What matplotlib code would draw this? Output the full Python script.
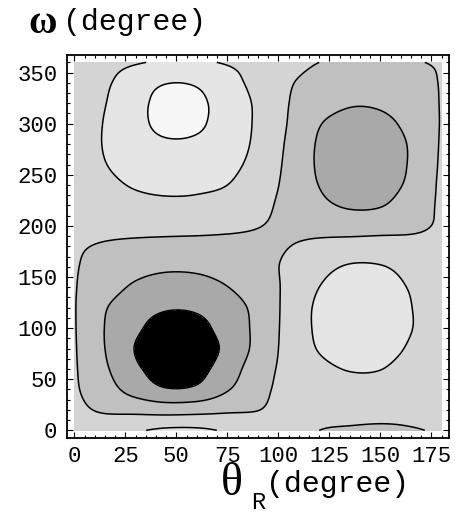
import matplotlib
matplotlib.use("Agg")
import matplotlib.pyplot as plt
import numpy as np
from matplotlib.ticker import MultipleLocator

plt.rcParams['font.family'] = ['Liberation Mono', 'DejaVu Sans Mono']

# sampling grid: theta_R across, omega up (degrees)
theta = [0, 15, 30, 45, 60, 75, 90, 105, 120, 135, 150, 165, 180]
omega = [0, 20, 40, 60, 80, 100, 120, 140, 160, 180, 200, 220, 240,
         260, 280, 300, 320, 340, 360]

# field values, one row per omega value
z_w000 = [3.30, 3.60, 3.90, 4.15, 4.15, 3.90, 3.60, 3.30, 3.00, 2.91, 2.875, 2.96, 3.05]
z_w020 = [3.21, 2.88, 2.74, 2.60, 2.66, 2.84, 2.98, 3.33, 3.28, 3.29, 3.26, 3.18, 3.20]
z_w040 = [3.12, 2.42, 1.60, 1.07, 1.18, 1.93, 2.71, 3.30, 3.52, 3.65, 3.62, 3.42, 3.30]
z_w060 = [3.10, 2.14, 1.15, 0.65, 0.72, 1.50, 2.55, 3.27, 3.76, 4.05, 4.02, 3.62, 3.38]
z_w080 = [3.08, 2.00, 0.96, 0.49, 0.56, 1.22, 2.31, 3.31, 4.06, 4.42, 4.36, 3.87, 3.30]
z_w100 = [3.06, 1.98, 1.16, 0.645, 0.72, 1.40, 2.25, 3.31, 4.17, 4.55, 4.49, 4.03, 3.40]
z_w120 = [3.05, 2.07, 1.41, 1.08, 1.13, 1.57, 2.29, 3.28, 4.17, 4.55, 4.49, 4.02, 3.40]
z_w140 = [3.05, 2.43, 1.85, 1.57, 1.62, 1.98, 2.55, 3.19, 4.00, 4.38, 4.33, 3.93, 3.40]
z_w160 = [3.06, 2.68, 2.34, 2.16, 2.19, 2.42, 2.79, 3.12, 3.70, 4.08, 4.05, 3.70, 3.35]
z_w180 = [3.08, 2.93, 2.81, 2.74, 2.72, 2.77, 2.87, 2.99, 3.19, 3.38, 3.39, 3.23, 3.15]
z_w200 = [3.20, 3.23, 3.27, 3.28, 3.26, 3.16, 3.02, 2.88, 2.73, 2.57, 2.65, 2.85, 3.08]
z_w220 = [3.30, 3.55, 3.72, 3.80, 3.78, 3.60, 3.22, 2.77, 2.22, 1.90, 1.95, 2.49, 3.15]
z_w240 = [3.38, 3.77, 4.08, 4.21, 4.17, 4.00, 3.43, 2.78, 1.98, 1.62, 1.66, 2.20, 3.18]
z_w260 = [3.45, 3.97, 4.36, 4.55, 4.52, 4.27, 3.66, 2.80, 1.88, 1.48, 1.55, 2.10, 3.14]
z_w280 = [3.45, 4.06, 4.60, 4.88, 4.83, 4.47, 3.79, 2.86, 1.90, 1.53, 1.59, 2.10, 3.10]
z_w300 = [3.42, 4.05, 4.72, 5.24, 5.15, 4.54, 3.85, 2.95, 2.05, 1.72, 1.78, 2.26, 3.06]
z_w320 = [3.38, 3.97, 4.71, 5.27, 5.19, 4.55, 3.84, 3.01, 2.40, 2.08, 2.13, 2.48, 3.05]
z_w340 = [3.35, 3.85, 4.54, 4.97, 4.90, 4.35, 3.70, 3.09, 2.68, 2.47, 2.50, 2.72, 3.04]
z_w360 = z_w000  # periodic in omega

z = np.array([z_w000, z_w020, z_w040, z_w060, z_w080, z_w100, z_w120, z_w140,
              z_w160, z_w180, z_w200, z_w220, z_w240, z_w260, z_w280, z_w300,
              z_w320, z_w340, z_w360])

levels = [-1, 1, 2, 3, 4, 5, 7]
shades = ['#000000', '#a9a9a9', '#c1c0c1', '#d4d4d4', '#e5e5e5', '#f7f7f7']


def cr_weights(n, steps, periodic=False):
    """Catmull-Rom resampling matrix for n evenly spaced samples."""
    u = np.linspace(0, n - 1, (n - 1) * steps + 1)
    i = np.minimum(u.astype(int), n - 2)
    t = u - i
    w = 0.5 * np.stack([-t + 2 * t**2 - t**3,
                        2 - 5 * t**2 + 3 * t**3,
                        t + 4 * t**2 - 3 * t**3,
                        -t**2 + t**3], axis=1)
    ncol = n - 1 if periodic else n
    m = np.zeros((len(u), ncol))
    rows = np.arange(len(u))
    for k in range(4):
        j = i - 1 + k
        if periodic:
            np.add.at(m, (rows, j % ncol), w[:, k])
            continue
        lo, hi = j < 0, j > n - 1
        mid = ~(lo | hi)
        np.add.at(m, (rows[mid], j[mid]), w[mid, k])
        # linear ghost points past the ends
        np.add.at(m, (rows[lo], 0), 2 * w[lo, k])
        np.add.at(m, (rows[lo], 1), -w[lo, k])
        np.add.at(m, (rows[hi], n - 1), 2 * w[hi, k])
        np.add.at(m, (rows[hi], n - 2), -w[hi, k])
    return u, m


steps = 12
ut, mt = cr_weights(len(theta), steps)
uw, mw = cr_weights(len(omega), steps, periodic=True)
theta_f = np.interp(ut, np.arange(len(theta)), theta)
omega_f = np.interp(uw, np.arange(len(omega)), omega)
z_f = mw @ z[:-1] @ mt.T

fig = plt.figure(figsize=(4.56, 5.14), dpi=100)
ax = fig.add_axes([67 / 456, 1 - 437.7 / 514, 382 / 456, 382.7 / 514])
ax.set_facecolor('white')

ax.contourf(theta_f, omega_f, z_f, levels=levels, colors=shades)
ax.contour(theta_f, omega_f, z_f, levels=levels[1:-1], colors='black', linewidths=1.1)

ax.set_xlim(-3.6, 183.6)
ax.set_ylim(-7.2, 367.2)
ax.xaxis.set_major_locator(MultipleLocator(25))
ax.xaxis.set_minor_locator(MultipleLocator(5))
ax.yaxis.set_major_locator(MultipleLocator(50))
ax.yaxis.set_minor_locator(MultipleLocator(10))
ax.tick_params(which='both', direction='in', top=True, right=True, width=0.8)
ax.tick_params(which='major', length=4.5, labelsize=16, pad=6)
ax.tick_params(which='minor', length=2.5)
ax.tick_params(axis='y', pad=7)
for s in ax.spines.values():
    s.set_linewidth(1.3)

# axis titles built from pieces: Greek letter, subscript, unit
def px(x, y):
    return x / 456, 1 - y / 514

fig.text(*px(28, 33), 'ω', family=['Liberation Serif'], weight='bold', fontsize=28,
         ha='left', va='baseline')
fig.text(*px(63, 30), '(degree)', fontsize=21.5, ha='left', va='baseline')
fig.text(*px(221, 495), 'θ', family=['Liberation Serif'], fontsize=33,
         ha='left', va='baseline')
fig.text(*px(251, 509), 'R', fontsize=17, ha='left', va='baseline')
fig.text(*px(266, 492), '(degree)', fontsize=21.5, ha='left', va='baseline')

fig.savefig('out.png', dpi=100)
